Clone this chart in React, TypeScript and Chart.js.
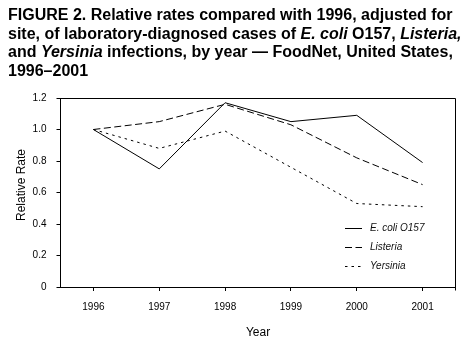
import React, { useEffect, useRef } from 'react';
import { Chart, registerables } from 'chart.js';

Chart.register(...registerables);

const years = ['1996', '1997', '1998', '1999', '2000', '2001'];
const ecoli = [1.0, 0.75, 1.17, 1.05, 1.09, 0.79];
const listeria = [1.0, 1.05, 1.16, 1.03, 0.82, 0.65];
const yersinia = [1.0, 0.88, 0.99, 0.76, 0.53, 0.51];
const seriesNames = ['E. coli O157', 'Listeria', 'Yersinia'];
const yMin = 0;
const yMax = 1.2;
const yStep = 0.2;
const xTitle = 'Year';
const yTitle = 'Relative Rate';

const FONT = '"Liberation Sans", Arial, Helvetica, sans-serif';

const boxPlugin = {
  id: 'boxPlugin',
  afterDraw(chart: any) {
    const { ctx, chartArea: a } = chart;
    const al = (v: number) => Math.round(v - 0.5) + 0.5;
    ctx.save();
    ctx.strokeStyle = '#000';
    ctx.lineWidth = 1;
    ctx.beginPath();
    ctx.moveTo(al(a.left), al(a.top));
    ctx.lineTo(al(a.right), al(a.top));
    ctx.lineTo(al(a.right), al(a.bottom) + 3);
    ctx.stroke();
    // y axis title
    ctx.translate(21.5, 185);
    ctx.rotate(-Math.PI / 2);
    ctx.fillStyle = '#000';
    ctx.font = `12px ${FONT}`;
    ctx.textAlign = 'center';
    ctx.textBaseline = 'middle';
    ctx.fillText(yTitle, 0, 0);
    ctx.restore();
  },
};

const legendPlugin = {
  id: 'inLegend',
  afterDraw(chart: any) {
    const { ctx } = chart;
    const x0 = 345;
    const x1 = 362;
    const tx = 370;
    const y0 = 228;
    const gap = 19;
    ctx.save();
    chart.data.datasets.forEach((ds: any, i: number) => {
      const y = y0 + i * gap + 0.5;
      ctx.strokeStyle = ds.borderColor;
      ctx.lineWidth = ds.borderWidth;
      ctx.setLineDash(ds.borderDash || []);
      ctx.beginPath();
      ctx.moveTo(x0, y);
      ctx.lineTo(x1, y);
      ctx.stroke();
      ctx.setLineDash([]);
      ctx.fillStyle = '#111';
      ctx.font = `italic 10px ${FONT}`;
      ctx.textBaseline = 'middle';
      ctx.textAlign = 'left';
      ctx.fillText(ds.label, tx, y);
    });
    ctx.restore();
  },
};

function ChartCanvas() {
  const ref = useRef<HTMLCanvasElement | null>(null);
  useEffect(() => {
    if (!ref.current) return;
    const chart = new Chart(ref.current, {
      type: 'line',
      data: {
        labels: years,
        datasets: [
          { label: seriesNames[0], data: ecoli, borderColor: '#000', borderWidth: 1, borderDash: [], pointRadius: 0, tension: 0, fill: false },
          { label: seriesNames[1], data: listeria, borderColor: '#000', borderWidth: 1, borderDash: [7, 3.5], pointRadius: 0, tension: 0, fill: false },
          { label: seriesNames[2], data: yersinia, borderColor: '#000', borderWidth: 1, borderDash: [2.5, 4], pointRadius: 0, tension: 0, fill: false },
        ],
      },
      options: {
        animation: false,
        responsive: false,
        maintainAspectRatio: false,
        layout: { padding: { top: 98, right: 11.5, left: 0, bottom: 0 } },
        plugins: { legend: { display: false }, tooltip: { enabled: false }, title: { display: false } },
        scales: {
          x: {
            type: 'category',
            offset: true,
            afterFit: (s: any) => { s.height = 66; },
            grid: { drawOnChartArea: false, drawTicks: true, tickLength: 4, color: '#000', offset: false },
            border: { display: true, color: '#000', width: 1 },
            ticks: { color: '#000', padding: 10, font: { family: FONT, size: 10 }, maxRotation: 0 },
            title: { display: true, text: xTitle, color: '#000', font: { family: FONT, size: 12 }, padding: { top: 0, bottom: 12.8 } },
          },
          y: {
            min: yMin,
            max: yMax,
            afterFit: (s: any) => { s.width = 60.5; },
            grid: { drawOnChartArea: false, drawTicks: true, tickLength: 4, color: '#000' },
            border: { display: true, color: '#000', width: 1 },
            ticks: {
              stepSize: yStep,
              color: '#000',
              padding: 10,
              font: { family: FONT, size: 10 },
              callback: (v: any) => (Number(v) === 0 ? '0' : Number(v).toFixed(1)),
            },
            title: { display: false },
          },
        },
      },
      plugins: [boxPlugin, legendPlugin],
    });
    return () => chart.destroy();
  }, []);
  return <canvas ref={ref} width={467} height={353} style={{ position: 'absolute', left: 0, top: 0, width: 467, height: 353 }} />;
}

export default function App() {
  return (
    <div style={{ position: 'fixed', left: 0, top: 0, width: 467, height: 353, background: '#fff', overflow: 'hidden' }}>
      <ChartCanvas />
      <div
        style={{
          position: 'absolute',
          left: 8,
          top: 6,
          fontFamily: FONT,
          fontWeight: 'bold',
          fontSize: 16,
          lineHeight: '18.7px',
          color: '#000',
          whiteSpace: 'nowrap',
        }}
      >
        FIGURE 2. Relative rates compared with 1996, adjusted for<br />
        site, of laboratory-diagnosed cases of <i>E. coli</i> O157, <i>Listeria,</i><br />
        and <i>Yersinia</i> infections, by year — FoodNet, United States,<br />
        1996–2001
      </div>
    </div>
  );
}
